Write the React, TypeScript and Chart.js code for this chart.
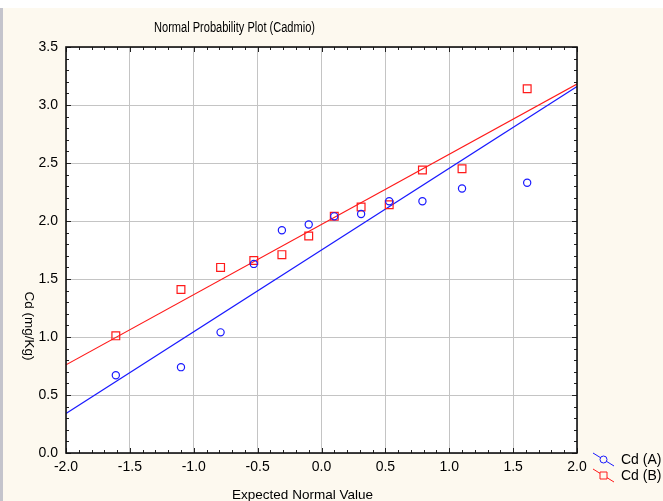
import React, { useEffect, useRef } from 'react';
import { Chart, registerables } from 'chart.js';

Chart.register(...registerables);

// Expected normal values (x) shared by both series
const expectedNormal = [-1.61, -1.10, -0.79, -0.53, -0.31, -0.10, 0.10, 0.31, 0.53, 0.79, 1.10, 1.61];
// Observed values (y)
const cdA = [0.67, 0.74, 1.04, 1.63, 1.92, 1.97, 2.04, 2.06, 2.17, 2.17, 2.28, 2.33];
const cdB = [1.01, 1.41, 1.60, 1.66, 1.71, 1.87, 2.04, 2.12, 2.14, 2.44, 2.45, 3.14];
// Fitted reference lines (endpoints at axis limits)
const fitX = [-2, 2];
const fitA = [0.34, 3.16];
const fitB = [0.76, 3.18];
// Axis settings
const xTicks = [-2.0, -1.5, -1.0, -0.5, 0.0, 0.5, 1.0, 1.5, 2.0];
const yTicks = [0.0, 0.5, 1.0, 1.5, 2.0, 2.5, 3.0, 3.5];
const seriesNames = ['Cd (A)', 'Cd (B)'];
const titleText = 'Normal Probability Plot (Cadmio)';
const xTitle = 'Expected Normal Value';
const yTitle = 'Cd (mg/Kg)';

const FONT = "'Liberation Sans', Arial, sans-serif";
const BLUE = '#1a1aff';
const RED = '#ff1a1a';

export default function App() {
  const ref = useRef<HTMLCanvasElement>(null);

  useEffect(() => {
    document.body.style.margin = '0';
    const canvas = ref.current;
    if (!canvas) return;

    const decor = {
      id: 'decor',
      beforeDraw(chart: any) {
        const ctx = chart.ctx;
        const W = chart.width, H = chart.height;
        const a = chart.chartArea;
        ctx.save();
        ctx.fillStyle = '#ffffff';
        ctx.fillRect(0, 0, W, H);
        ctx.fillStyle = '#fdf9ef';
        ctx.fillRect(0, 8, W, H - 8);
        ctx.fillStyle = '#c4c4cc';
        ctx.fillRect(0, 8, 3, H - 8);
        ctx.fillStyle = '#ffffff';
        ctx.fillRect(a.left, a.top, a.right - a.left, a.bottom - a.top);
        ctx.restore();
      },
      afterDraw(chart: any) {
        const ctx = chart.ctx;
        const a = chart.chartArea;
        const xs = chart.scales.x;
        const ys = chart.scales.y;
        ctx.save();
        // minor / major ticks, inward on all sides
        ctx.strokeStyle = '#222';
        ctx.lineWidth = 1;
        ctx.beginPath();
        for (let i = 0; i <= 40; i++) {
          const v = -2 + i * 0.1;
          const px = Math.round(xs.getPixelForValue(v)) + 0.5;
          const len = i % 5 === 0 ? 5 : 3;
          ctx.moveTo(px, a.bottom);
          ctx.lineTo(px, a.bottom - len);
          ctx.moveTo(px, a.top);
          ctx.lineTo(px, a.top + len);
        }
        for (let i = 0; i <= 35; i++) {
          const v = i * 0.1;
          const py = Math.round(ys.getPixelForValue(v)) + 0.5;
          const len = i % 5 === 0 ? 5 : 3;
          ctx.moveTo(a.left, py);
          ctx.lineTo(a.left + len, py);
          ctx.moveTo(a.right, py);
          ctx.lineTo(a.right - len, py);
        }
        ctx.stroke();
        // frame
        ctx.strokeStyle = '#111';
        ctx.lineWidth = 1.6;
        ctx.strokeRect(a.left, a.top, a.right - a.left, a.bottom - a.top);

        ctx.fillStyle = '#000';
        // title (narrow)
        ctx.font = `14px ${FONT}`;
        ctx.textBaseline = 'alphabetic';
        ctx.textAlign = 'left';
        const tw = ctx.measureText(titleText).width;
        const targetW = 161;
        ctx.save();
        ctx.translate(154, 32);
        ctx.scale(targetW / tw, 1);
        ctx.fillText(titleText, 0, 0);
        ctx.restore();

        // x title
        ctx.font = `13.5px ${FONT}`;
        ctx.textAlign = 'center';
        ctx.fillText(xTitle, 302.5, 499);

        // y title rotated clockwise
        ctx.save();
        ctx.translate(29, 326);
        ctx.rotate(Math.PI / 2);
        ctx.textAlign = 'center';
        ctx.textBaseline = 'middle';
        ctx.font = `13.5px ${FONT}`;
        ctx.fillText(yTitle, 0, 0);
        ctx.restore();

        // legend
        const items = [
          { color: BLUE, y0: 453, style: 'circle' },
          { color: RED, y0: 469, style: 'rect' },
        ];
        items.forEach((it, i) => {
          ctx.strokeStyle = it.color;
          ctx.lineWidth = 1;
          ctx.beginPath();
          ctx.moveTo(593, it.y0);
          ctx.lineTo(614, it.y0 + 13);
          ctx.stroke();
          const cx = 603.5, cy = it.y0 + 6.5;
          ctx.fillStyle = '#fdf9ef';
          ctx.beginPath();
          if (it.style === 'circle') {
            ctx.arc(cx, cy, 3.5, 0, Math.PI * 2);
          } else {
            ctx.rect(cx - 3.5, cy - 3.5, 7, 7);
          }
          ctx.fill();
          ctx.stroke();
          ctx.fillStyle = '#000';
          ctx.font = `14px ${FONT}`;
          ctx.textAlign = 'left';
          ctx.textBaseline = 'middle';
          ctx.fillText(seriesNames[i], 621, cy + 1);
        });
        ctx.restore();
      },
    };

    const tickFont = { family: FONT, size: 14 };

    const chart = new Chart(canvas, {
      type: 'scatter',
      data: {
        datasets: [
          {
            label: seriesNames[0] + ' fit',
            data: fitX.map((x, i) => ({ x, y: fitA[i] })),
            showLine: true,
            borderColor: BLUE,
            borderWidth: 1.2,
            pointRadius: 0,
            order: 3,
          },
          {
            label: seriesNames[1] + ' fit',
            data: fitX.map((x, i) => ({ x, y: fitB[i] })),
            showLine: true,
            borderColor: RED,
            borderWidth: 1.2,
            pointRadius: 0,
            order: 4,
          },
          {
            label: seriesNames[0],
            data: expectedNormal.map((x, i) => ({ x, y: cdA[i] })),
            pointStyle: 'circle',
            pointRadius: 3.6,
            borderColor: BLUE,
            backgroundColor: 'rgba(0,0,0,0)',
            borderWidth: 1.2,
            order: 1,
          },
          {
            label: seriesNames[1],
            data: expectedNormal.map((x, i) => ({ x, y: cdB[i] })),
            pointStyle: 'rect',
            pointRadius: 5.5,
            borderColor: RED,
            backgroundColor: 'rgba(0,0,0,0)',
            borderWidth: 1.2,
            order: 2,
          },
        ],
      },
      options: {
        responsive: false,
        animation: false,
        devicePixelRatio: 1,
        layout: { padding: { left: 0, right: 86, top: 47, bottom: 0 } },
        plugins: {
          legend: { display: false },
          tooltip: { enabled: false },
          title: { display: false },
        },
        scales: {
          x: {
            type: 'linear',
            min: -2,
            max: 2,
            afterBuildTicks: (s: any) => { s.ticks = xTicks.map((v) => ({ value: v })); },
            afterFit: (s: any) => { s.height = 48; },
            ticks: {
              callback: (v: any) => Number(v).toFixed(1),
              font: tickFont,
              color: '#000',
              padding: 6,
              maxRotation: 0,
              autoSkip: false,
            },
            grid: { color: '#c4c4c4', drawTicks: false },
            border: { display: false },
          },
          y: {
            type: 'linear',
            min: 0,
            max: 3.5,
            afterBuildTicks: (s: any) => { s.ticks = yTicks.map((v) => ({ value: v })); },
            afterFit: (s: any) => { s.width = 66; },
            ticks: {
              callback: (v: any) => Number(v).toFixed(1),
              font: tickFont,
              color: '#000',
              padding: 8,
              autoSkip: false,
            },
            grid: { color: '#c4c4c4', drawTicks: false },
            border: { display: false },
          },
        },
      },
      plugins: [decor],
    } as any);

    return () => chart.destroy();
  }, []);

  return <canvas ref={ref} width={663} height={501} style={{ display: 'block' }} />;
}
